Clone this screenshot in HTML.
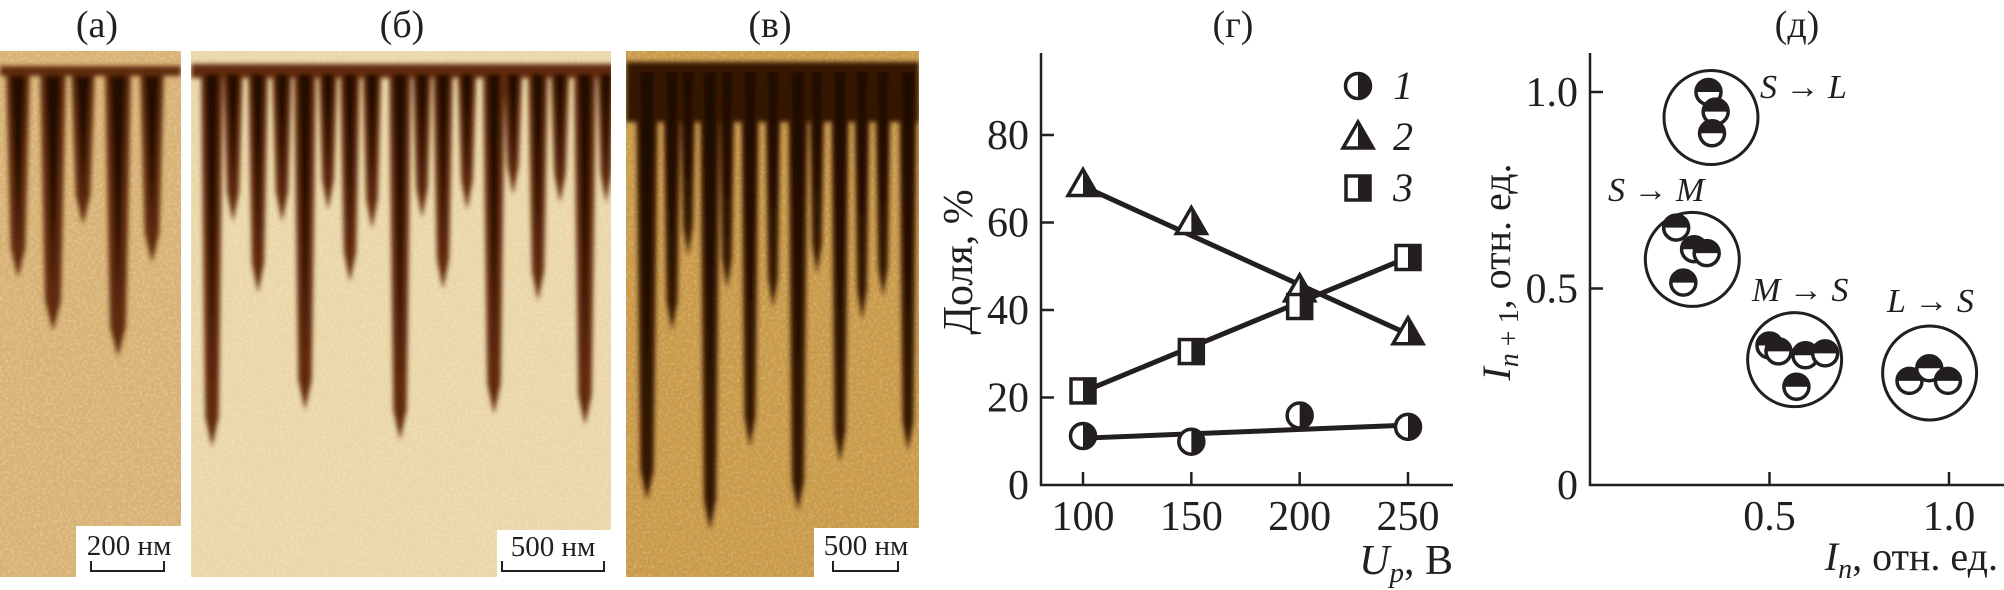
<!DOCTYPE html>
<html><head><meta charset="utf-8"><style>
html,body{margin:0;padding:0;background:#fff;}
svg{display:block;font-family:"Liberation Serif","DejaVu Serif",serif;}
svg text{font-family:"Liberation Serif","DejaVu Serif",serif;}
</style></head><body>
<svg id="fig" width="2004" height="590" viewBox="0 0 2004 590" xmlns="http://www.w3.org/2000/svg" font-family="Liberation Serif, DejaVu Serif, serif">
<defs>
<filter id="noise" x="0" y="0" width="100%" height="100%">
<feTurbulence type="fractalNoise" baseFrequency="0.35" numOctaves="2" seed="3" result="t"/>
<feColorMatrix type="matrix" values="0 0 0 0 1  0 0 0 0 1  0 0 0 0 1  0 0 0 1.1 -0.45" />
</filter>
<filter id="blur"><feGaussianBlur stdDeviation="2.5"/></filter>
<clipPath id="clipA"><rect x="0" y="51" width="181" height="526"/></clipPath>
<clipPath id="clipB"><rect x="191" y="51" width="420" height="526"/></clipPath>
<clipPath id="clipC"><rect x="626" y="51" width="293" height="526"/></clipPath>
</defs>

<g font-size="38" text-anchor="middle" fill="#231f20">
<text x="97" y="37">(а)</text>
<text x="402" y="37">(б)</text>
<text x="770" y="37">(в)</text>
<text x="1233" y="37">(г)</text>
<text x="1797" y="37">(д)</text>
</g>

<g id="imgA" clip-path="url(#clipA)">
<rect x="0" y="51" width="181" height="526" fill="#d8b274"/>
<rect x="0" y="51" width="181" height="526" filter="url(#noise)" opacity="0.5"/>
<g id="stripesA" filter="url(#blur)"></g>
</g>
<g id="imgB" clip-path="url(#clipB)">
<rect x="191" y="51" width="420" height="526" fill="#ead6a8"/>
<rect x="191" y="51" width="420" height="526" filter="url(#noise)" opacity="0.5"/>
<g id="stripesB" filter="url(#blur)"></g>
</g>
<g id="imgC" clip-path="url(#clipC)">
<rect x="626" y="51" width="293" height="526" fill="#c99a48"/>
<rect x="626" y="51" width="293" height="526" filter="url(#noise)" opacity="0.45"/>
<g id="stripesC" filter="url(#blur)"></g>
</g>

<g>
<rect x="76" y="526" width="105" height="51" fill="#fff"/>
<text x="129" y="555" font-size="29" text-anchor="middle" fill="#231f20">200 нм</text>
<path d="M91 561 V571 H164 V561" fill="none" stroke="#231f20" stroke-width="2"/>
</g>
<g>
<rect x="497" y="530" width="114" height="47" fill="#fff"/>
<text x="553" y="556" font-size="29" text-anchor="middle" fill="#231f20">500 нм</text>
<path d="M502 561 V571 H604 V561" fill="none" stroke="#231f20" stroke-width="2"/>
</g>
<g>
<rect x="814" y="528" width="105" height="49" fill="#fff"/>
<text x="866" y="555" font-size="29" text-anchor="middle" fill="#231f20">500 нм</text>
<path d="M833 561 V571 H898 V561" fill="none" stroke="#231f20" stroke-width="2"/>
</g>

<g id="chartD"></g>
<g id="chartE"></g>
</svg>

<script>
// ---- chart (г) data ----
const voltages = [100, 150, 200, 250];
const series1 = [11.2, 9.9, 15.9, 13.3];
const series2 = [68.7, 60, 44.6, 34.8];
const series3 = [21.5, 30.5, 40.8, 52];
const fitX = [100, 250];
const fit1 = [10.7, 13.7];
const fit2 = [68.3, 34.5];
const fit3 = [21.3, 52];
const yTicksD = [0, 20, 40, 60, 80];
const xTicksD = [100, 150, 200, 250];
const legendLabels = ["1", "2", "3"];

// ---- chart (д) data ----
const groupNames = ["S → L", "S → M", "M → S", "L → S"];
const groupCx = [0.337, 0.285, 0.57, 0.946];
const groupCy = [0.935, 0.574, 0.319, 0.285];
const pointsX = [[0.33, 0.35, 0.34], [0.24, 0.29, 0.325, 0.26], [0.50, 0.525, 0.60, 0.655, 0.575], [0.89, 0.945, 0.997]];
const pointsY = [[1.00, 0.95, 0.895], [0.655, 0.60, 0.59, 0.515], [0.355, 0.34, 0.33, 0.335, 0.25], [0.265, 0.297, 0.265]];
const yTicksE = [0, 0.5, 1.0];
const xTicksE = [0.5, 1.0];

// ---- micrograph stripe data (image features) ----
const stripesA = [[18,24,278],[53,26,331],[83,24,225],[118,26,357],[152,24,263]];
const stripesB = [[212,22,447],[233,20,222],[258,20,293],[282,20,222],[305,22,410],[328,19,210],[350,20,282],[372,19,229],[400,22,440],[422,19,218],[443,20,289],[467,19,210],[494,22,414],[513,19,195],[538,20,301],[560,19,203],[585,22,425],[606,18,203]];
const stripesC = [[647,22,500],[672,18,331],[688,16,256],[710,20,530],[727,16,289],[750,18,447],[773,16,308],[798,20,511],[817,16,274],[840,18,462],[862,16,320],[883,16,297],[908,18,451]];

const NS = "http://www.w3.org/2000/svg";
function mk(tag, attrs, parent) {
  const e = document.createElementNS(NS, tag);
  for (const k in attrs) e.setAttribute(k, attrs[k]);
  parent.appendChild(e);
  return e;
}
const INK = "#231f20";

function drawStripes(gid, arr, top, bandColor, coreColor, bandH) {
  const g = document.getElementById(gid);
  const x0 = gid === "stripesA" ? 0 : gid === "stripesB" ? 191 : 626;
  const w0 = gid === "stripesA" ? 181 : gid === "stripesB" ? 420 : 293;
  const band = mk("rect", {x: x0, y: top, width: w0, height: bandH, fill: bandColor}, g);
  
  
  arr.forEach(s => {
    const [cx, w, tip] = s;
    const p = mk("polygon", {points: `${cx-w/2},${top} ${cx+w/2},${top} ${cx+w*0.3},${tip-30} ${cx},${tip} ${cx-w*0.3},${tip-30}`, fill: bandColor}, g);
    
    
    const c = mk("polygon", {points: `${cx-w*0.3},${top+10} ${cx+w*0.3},${top+10} ${cx},${top + (tip-top)*0.85}`, fill: coreColor}, g);
    
    
  });
}
drawStripes("stripesA", stripesA, 66, "#5e2a0a", "#230c02", 10);
drawStripes("stripesB", stripesB, 64, "#62290b", "#230a02", 14);
drawStripes("stripesC", stripesC, 62, "#361204", "#1e0801", 60);

// ---- chart (г) ----
const gD = document.getElementById("chartD");
const xD = v => 1083 + (v - 100) * (325 / 150);
const yD = v => 485 - v * 4.375;

let ax = mk("path", {d: "M1041 53 V485 H1453", fill: "none", stroke: INK, "stroke-width": 2.5}, gD);


yTicksD.forEach(v => {
  if (v > 0) {
    const t = mk("line", {x1: 1041, x2: 1054, y1: yD(v), y2: yD(v), stroke: INK, "stroke-width": 2.5}, gD);
    
    
  }
  const l = mk("text", {x: 1029, y: yD(v) + 14, "font-size": 42, "text-anchor": "end", fill: INK}, gD);
  l.textContent = v;
  
  
});
xTicksD.forEach(v => {
  const t = mk("line", {x1: xD(v), x2: xD(v), y1: 485, y2: 472, stroke: INK, "stroke-width": 2.5}, gD);
  
  
  const l = mk("text", {x: xD(v), y: 530, "font-size": 42, "text-anchor": "middle", fill: INK}, gD);
  l.textContent = v;
  
  
});
let yl = mk("text", {x: 0, y: 0, "font-size": 42, "text-anchor": "middle", fill: INK, transform: "translate(972 262) rotate(-90)"}, gD);
yl.textContent = "Доля, %";


let xl = mk("text", {x: 1453, y: 574, "font-size": 42, "text-anchor": "end", fill: INK}, gD);
xl.innerHTML = '<tspan font-style="italic">U</tspan><tspan font-style="italic" font-size="29" dy="8">p</tspan><tspan dy="-8">, В</tspan>';



[[fit1, 'fit-line-1'], [fit2, 'fit-line-2'], [fit3, 'fit-line-3']].forEach(([f, n]) => {
  const l = mk("line", {x1: xD(fitX[0]), y1: yD(f[0]), x2: xD(fitX[1]), y2: yD(f[1]), stroke: INK, "stroke-width": 5}, gD);
  
  
});

function circleMark(cx, cy, parent) {
  const g = mk("g", {}, parent);
  mk("circle", {cx, cy, r: 12.5, fill: "#fff", stroke: INK, "stroke-width": 3.5}, g);
  mk("path", {d: `M${cx} ${cy-12.5} A12.5 12.5 0 0 1 ${cx} ${cy+12.5} Z`, fill: INK}, g);
  return g;
}
function triMark(cx, cy, parent) {
  const g = mk("g", {}, parent);
  mk("polygon", {points: `${cx},${cy-15} ${cx+15},${cy+11} ${cx-15},${cy+11}`, fill: "#fff", stroke: INK, "stroke-width": 3.5}, g);
  mk("polygon", {points: `${cx},${cy-15} ${cx+15},${cy+11} ${cx},${cy+11}`, fill: INK}, g);
  return g;
}
function sqMark(cx, cy, parent) {
  const g = mk("g", {}, parent);
  mk("rect", {x: cx-12, y: cy-12, width: 24, height: 24, fill: "#fff", stroke: INK, "stroke-width": 3.5}, g);
  mk("rect", {x: cx, y: cy-13.5, width: 13.5, height: 27, fill: INK}, g);
  return g;
}
voltages.forEach((v, i) => {
  let m = circleMark(xD(v), yD(series1[i]), gD);
  
  
  m = triMark(xD(v), yD(series2[i]), gD);
  
  
  m = sqMark(xD(v), yD(series3[i]), gD);
  
  
});
[circleMark, triMark, sqMark].forEach((fn, i) => {
  const y = 86 + i * 51;
  const m = fn(1358, y, gD);
  
  
  const t = mk("text", {x: 1393, y: y + 13, "font-size": 40, "font-style": "italic", fill: INK}, gD);
  t.textContent = legendLabels[i];
  
  
});

// ---- chart (д) ----
const gE = document.getElementById("chartE");
const xE = v => 1590 + v * 359;
const yE = v => 485 - v * 393;
let ax2 = mk("path", {d: "M1590 53 V485 H2004", fill: "none", stroke: INK, "stroke-width": 2.5}, gE);


yTicksE.forEach(v => {
  if (v > 0) {
    const t = mk("line", {x1: 1590, x2: 1603, y1: yE(v), y2: yE(v), stroke: INK, "stroke-width": 2.5}, gE);
    
    
  }
  const l = mk("text", {x: 1578, y: yE(v) + 14, "font-size": 42, "text-anchor": "end", fill: INK}, gE);
  l.textContent = v === 0 ? "0" : v.toFixed(1);
  
  
});
xTicksE.forEach(v => {
  const t = mk("line", {x1: xE(v), x2: xE(v), y1: 485, y2: 472, stroke: INK, "stroke-width": 2.5}, gE);
  
  
  const l = mk("text", {x: xE(v), y: 530, "font-size": 42, "text-anchor": "middle", fill: INK}, gE);
  l.textContent = v.toFixed(1);
  
  
});
let yl2 = mk("text", {x: 0, y: 0, "font-size": 40, "text-anchor": "middle", fill: INK, transform: "translate(1510 272) rotate(-90)"}, gE);
yl2.innerHTML = '<tspan font-style="italic">I</tspan><tspan font-style="italic" font-size="28" dy="8">n</tspan><tspan font-size="28"> + 1</tspan><tspan dy="-8">, отн. ед.</tspan>';


let xl2 = mk("text", {x: 1998, y: 570, "font-size": 40, "text-anchor": "end", fill: INK}, gE);
xl2.innerHTML = '<tspan font-style="italic">I</tspan><tspan font-style="italic" font-size="28" dy="8">n</tspan><tspan dy="-8">, отн. ед.</tspan>';



const labelPos = [[1760, 98], [1608, 201], [1752, 301], [1887, 312]];
groupNames.forEach((name, gi) => {
  const g = mk("g", {}, gE);
  
  
  mk("circle", {cx: xE(groupCx[gi]), cy: yE(groupCy[gi]), r: 47, fill: "none", stroke: INK, "stroke-width": 3}, g);
  pointsX[gi].forEach((px, pi) => {
    const cx = xE(px), cy = yE(pointsY[gi][pi]);
    const m = mk("g", {}, g);
    
    
    mk("circle", {cx, cy, r: 12.5, fill: "#fff", stroke: INK, "stroke-width": 3.5}, m);
    mk("path", {d: `M${cx-12.5} ${cy} A12.5 12.5 0 0 1 ${cx+12.5} ${cy} Z`, fill: INK}, m);
  });
  const parts = name.split(" → ");
  const t = mk("text", {x: labelPos[gi][0], y: labelPos[gi][1], "font-size": 34, fill: INK}, gE);
  t.innerHTML = `<tspan font-style="italic">${parts[0]}</tspan> → <tspan font-style="italic">${parts[1]}</tspan>`;
  
  
});
</script>
</body></html>
